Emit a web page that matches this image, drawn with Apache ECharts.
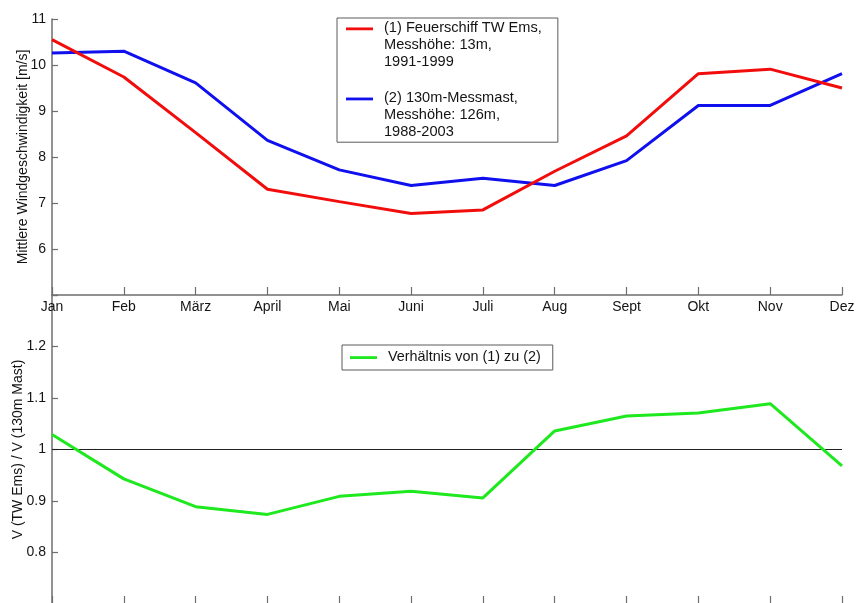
<!DOCTYPE html>
<html>
<head>
<meta charset="utf-8">
<title>Windgeschwindigkeit Feuerschiff TW Ems / 130m-Messmast</title>
<script src="https://cdn.jsdelivr.net/npm/echarts@6/dist/echarts.min.js"></script>
<style>
  html, body { margin: 0; padding: 0; background: #ffffff; }
  #chart { width: 857px; height: 603px; }
</style>
</head>
<body>
<div id="chart"></div>
<script>
// Monthly mean wind speeds and their ratio
const months = ['Jan', 'Feb', 'März', 'April', 'Mai', 'Juni', 'Juli', 'Aug', 'Sept', 'Okt', 'Nov', 'Dez'];

const nameShip = '(1) Feuerschiff TW Ems,\nMesshöhe: 13m,\n1991-1999';
const nameMast = '(2) 130m-Messmast,\nMesshöhe: 126m,\n1988-2003';
const nameRatio = 'Verhältnis von (1) zu (2)';

const speedShip = [10.55, 9.74, 8.53, 7.30, 7.03, 6.77, 6.85, 7.69, 8.46, 9.81, 9.91, 9.50];
const speedMast = [10.26, 10.30, 9.61, 8.36, 7.72, 7.38, 7.54, 7.38, 7.92, 9.12, 9.12, 9.81];
const ratio = [1.029, 0.943, 0.889, 0.874, 0.909, 0.919, 0.906, 1.036, 1.065, 1.071, 1.089, 0.968];

const speedTicks = [6, 7, 8, 9, 10, 11];
const ratioTicks = [0.8, 0.9, 1, 1.1, 1.2];

const FONT = '"Liberation Sans", Arial, Helvetica, sans-serif';
const TEXT = '#141414';
const AXIS = '#6e6e6e';

const chart = echarts.init(document.getElementById('chart'), null, { renderer: 'canvas' });

function labelFromList(list) {
  return function (v) {
    const r = Math.round(v * 10) / 10;
    return list.indexOf(r) >= 0 ? String(r) : '';
  };
}

const xAxisBase = {
  type: 'category',
  data: months,
  boundaryGap: false,
  axisLine: { lineStyle: { color: AXIS, width: 1.5 } },
  axisTick: { inside: true, length: 8, lineStyle: { color: AXIS, width: 1.2 } },
  splitLine: { show: false }
};

const yAxisBase = {
  type: 'value',
  nameLocation: 'middle',
  nameMoveOverlap: false,
  nameTextStyle: { fontFamily: FONT, fontSize: 14, color: TEXT },
  axisLine: { show: true, lineStyle: { color: AXIS, width: 1.5 } },
  axisTick: { show: true, inside: true, length: 6, lineStyle: { color: AXIS, width: 1.2 } },
  splitLine: { show: false }
};

// legend icon: short line on the first text row of a three-row entry
const iconTall = 'path://M0,0L0,0M27,50L27,50M0,7.4H27V10.2H0Z';
const iconShort = 'path://M0,0L0,0M27,17L27,17M0,7.2H27V10H0Z';

chart.setOption({
  backgroundColor: '#ffffff',
  animation: false,
  textStyle: { fontFamily: FONT },
  grid: [
    { left: 52, right: 15, top: 19, height: 276, containLabel: false, outerBoundsMode: 'none' },
    { left: 52, right: 15, top: 295, height: 309, containLabel: false, outerBoundsMode: 'none' }
  ],
  xAxis: [
    Object.assign({}, xAxisBase, {
      gridIndex: 0,
      axisLabel: { fontFamily: FONT, fontSize: 14, color: TEXT, margin: 5, interval: 0 }
    }),
    Object.assign({}, xAxisBase, {
      gridIndex: 1,
      axisLabel: { show: false }
    })
  ],
  yAxis: [
    Object.assign({}, yAxisBase, {
      gridIndex: 0,
      min: 5, max: 11, interval: 1,
      name: 'Mittlere Windgeschwindigkeit [m/s]',
      nameGap: 22,
      axisLabel: { fontFamily: FONT, fontSize: 14, color: TEXT, margin: 6, formatter: labelFromList(speedTicks) }
    }),
    Object.assign({}, yAxisBase, {
      gridIndex: 1,
      min: 0.7, max: 1.3, interval: 0.1,
      name: 'V (TW Ems) / V (130m Mast)',
      nameGap: 27,
      axisLabel: { fontFamily: FONT, fontSize: 14, color: TEXT, margin: 6, formatter: labelFromList(ratioTicks) }
    })
  ],
  legend: [
    {
      data: [nameShip, nameMast],
      orient: 'vertical',
      left: 337, top: 18,
      padding: [2, 16, 2, 9],
      itemGap: 20,
      itemWidth: 27, itemHeight: 50,
      icon: iconTall,
      itemStyle: { borderWidth: 0 },
      borderColor: '#5a5a5a', borderWidth: 1, borderRadius: 0,
      backgroundColor: '#ffffff',
      selectedMode: false,
      textStyle: { fontFamily: FONT, fontSize: 14.6, lineHeight: 16.7, color: TEXT, padding: [0, 0, 0, 6] }
    },
    {
      data: [nameRatio],
      orient: 'vertical',
      left: 342, top: 345,
      padding: [4, 12, 4, 8],
      itemWidth: 27, itemHeight: 17,
      icon: iconShort,
      itemStyle: { borderWidth: 0 },
      borderColor: '#5a5a5a', borderWidth: 1, borderRadius: 0,
      backgroundColor: '#ffffff',
      selectedMode: false,
      textStyle: { fontFamily: FONT, fontSize: 14.4, color: TEXT, padding: [0, 0, 0, 6] }
    }
  ],
  series: [
    {
      name: nameShip,
      type: 'line',
      xAxisIndex: 0, yAxisIndex: 0,
      data: speedShip,
      symbol: 'none',
      color: '#f20d0d',
      lineStyle: { width: 3, color: '#f20d0d' },
      z: 3
    },
    {
      name: nameMast,
      type: 'line',
      xAxisIndex: 0, yAxisIndex: 0,
      data: speedMast,
      symbol: 'none',
      color: '#1010ee',
      lineStyle: { width: 3, color: '#1010ee' },
      z: 2
    },
    {
      name: nameRatio,
      type: 'line',
      xAxisIndex: 1, yAxisIndex: 1,
      data: ratio,
      symbol: 'none',
      color: '#1ee81e',
      lineStyle: { width: 3, color: '#1ee81e' },
      z: 3,
      markLine: {
        silent: true,
        symbol: ['none', 'none'],
        label: { show: false },
        lineStyle: { color: '#222222', width: 1, type: 'solid' },
        data: [{ yAxis: 1 }],
        z: 1
      }
    }
  ]
});
</script>
</body>
</html>
